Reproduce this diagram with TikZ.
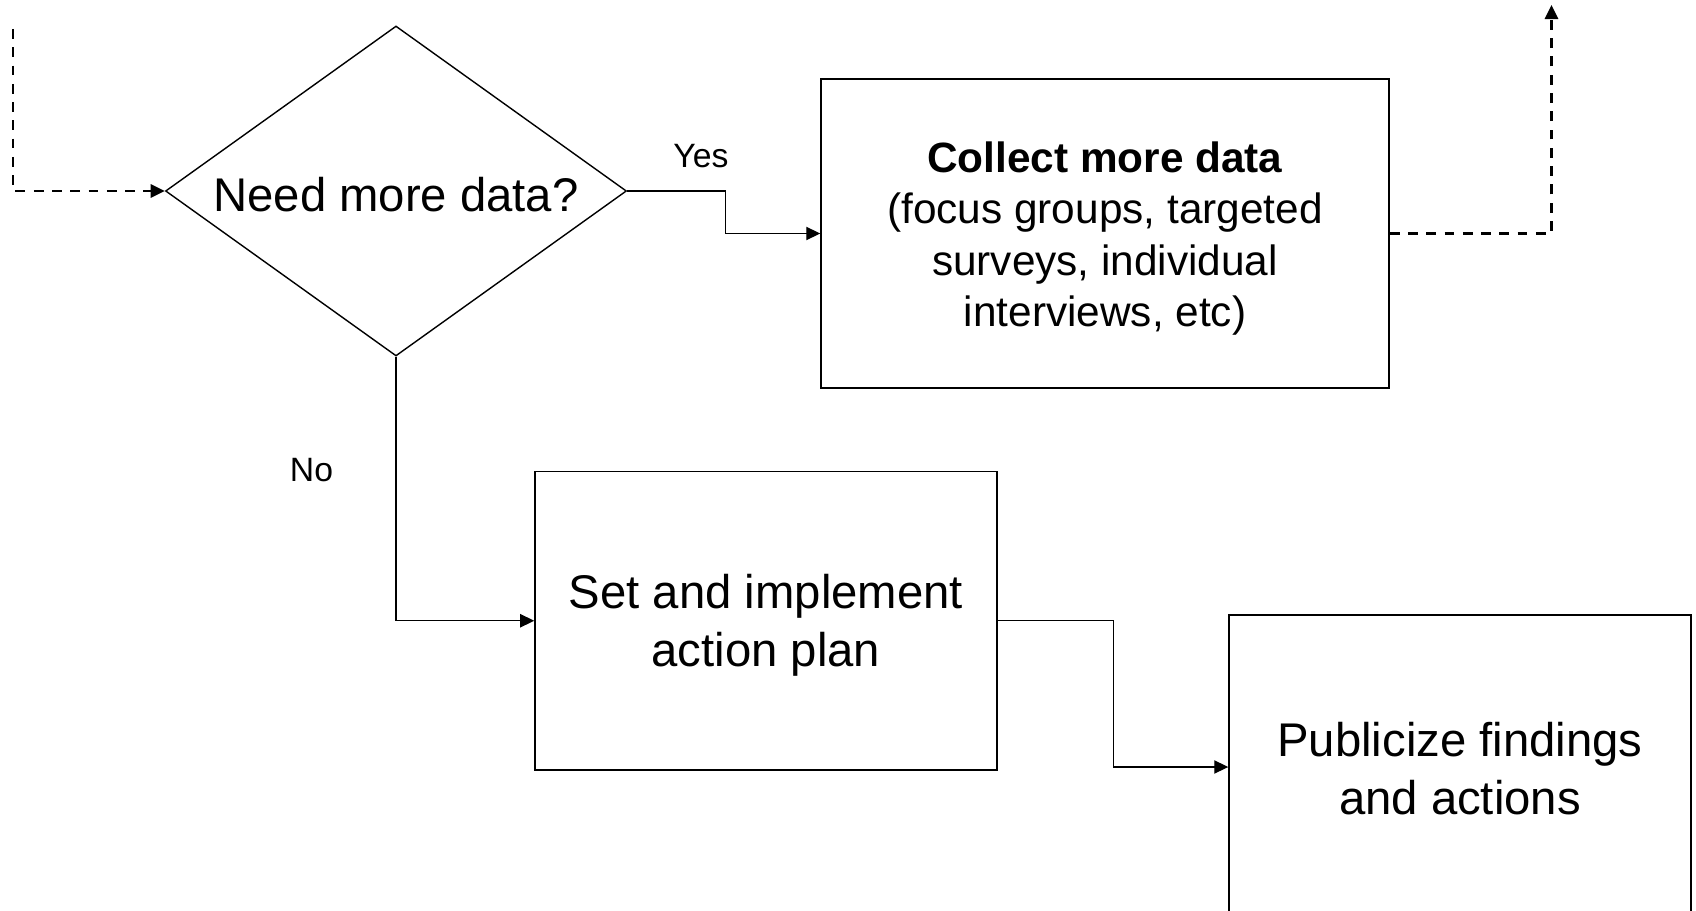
\documentclass[tikz,border=0pt]{standalone}
\usepackage{fontspec}
\setmainfont{Liberation Sans}
\usetikzlibrary{calc, shapes.geometric, arrows.meta}

\begin{document}
\begin{tikzpicture}[
  box/.style={draw, line width=0.8pt, inner sep=0pt}, % 四角
  txt/.style={align=center, yshift=-0.1cm, font=\fontsize{26.9}{33}\selectfont}, % 中の文字
  decision/.style={draw, diamond, line width=0.8pt, inner sep=0pt, minimum width=9.22cm, minimum height=6.6cm}, % ひし形
  arr/.style={line width=0.8pt, -{Triangle[length=8pt, width=7.5pt]}}, % 矢印
  dasharr/.style={line width=1.5pt, dash pattern=on 5.6pt off 4.8pt, -{Triangle[length=8pt, width=7.5pt]}}, % 点線の矢印
  lbl/.style={font=\fontsize{19.2}{23}\selectfont} % Yes, No
  ]
  \useasboundingbox (0,0) rectangle (33.92,-18.22); % 余白込みの大きさ

  \node[decision, label={[txt, yshift=0.02cm]center:Need more data?}] (need) at (7.92,-3.82) {}; % 判断
  \node[box, minimum width=11.36cm, minimum height=6.18cm,
    label={[txt, font=\fontsize{24.1}{29.3}\selectfont]center:{\textbf{Collect more data}\\(focus groups, targeted\\surveys, individual\\interviews, etc)}}]
    (collect) at (22.1,-4.67) {}; % データ収集
  \node[box, minimum width=9.24cm, minimum height=5.97cm, label={[txt]center:{Set and implement\\action plan}}] (plan) at (15.32,-12.415) {}; % 計画
  \node[box, minimum width=9.24cm, minimum height=6.08cm, label={[txt, yshift=0.06cm]center:{Publicize findings\\and actions}}] (pub) at (29.2,-15.34) {}; % 公表

  \coordinate (in) at (0.26,-0.58); % 左上の点線の始点
  \coordinate (out) at (31.03,-0.1); % 右上の点線の終点

  \draw[dasharr] (in) |- (need.west); % 入ってくる点線
  \draw[dasharr] (collect.east) -| (out); % 出ていく点線
  \draw[arr] (need.east) -- ++(1.96,0) |- (collect.west); % Yes
  \draw[arr] (need.south) |- (plan.west); % No
  \draw[arr] (plan.east) -- ++(2.32,0) |- (pub.west); % 計画から公表へ

  \node[lbl] (yes) at (14.02,-3.12) {Yes}; % ラベル
  \node[lbl] (no) at (6.23,-9.41) {No}; % ラベル
\end{tikzpicture}
\end{document}
